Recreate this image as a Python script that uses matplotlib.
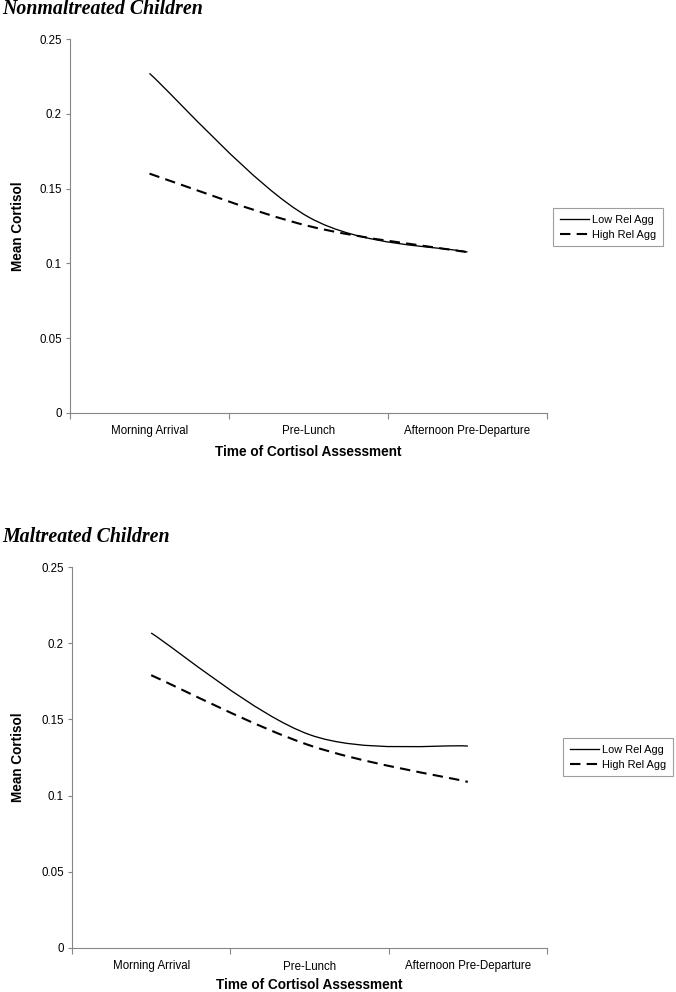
import numpy as np
import matplotlib
matplotlib.use("Agg")
import matplotlib.pyplot as plt
from matplotlib.path import Path
from matplotlib.patches import PathPatch
from matplotlib.lines import Line2D
from matplotlib.ticker import FuncFormatter


# ---------------------------------------------------------
# data
# ---------------------------------------------------------

times = ["Morning Arrival", "Pre-Lunch", "Afternoon Pre-Departure"]

nonmal_low = [0.227, 0.131, 0.1076]
nonmal_high = [0.160, 0.125, 0.1075]

mal_low = [0.2067, 0.140, 0.1325]
mal_high = [0.179, 0.133, 0.109]

series_names = ["Low Rel Agg", "High Rel Agg"]
y_ticks = [0, 0.05, 0.1, 0.15, 0.2, 0.25]


# ---------------------------------------------------------
# style
# ---------------------------------------------------------

plt.rcParams["font.family"] = ["Liberation Sans", "DejaVu Sans"]

AXIS_GRAY = "#868686"
SOLID_LW = 0.95
DASH_LW = 1.5
DASH = (0, (5, 3))

W, H = 676, 992


def smooth_path(xs, ys):
    """Excel風のスムージング（ベジェ曲線）のパスを作る"""
    pts = np.column_stack([xs, ys]).astype(float)
    ext = np.vstack([pts[0], pts, pts[-1]])
    verts = [pts[0]]
    codes = [Path.MOVETO]
    for i in range(len(pts) - 1):
        p0, p1, p2, p3 = ext[i], ext[i + 1], ext[i + 2], ext[i + 3]
        c1 = p1 + (p2 - p0) / 6
        c2 = p2 - (p3 - p1) / 6
        verts += [c1, c2, p2]
        codes += [Path.CURVE4] * 3
    return Path(verts, codes)


def draw_panel(box, title, title_y, low, high, legend_xy, ylabel_x, xlabel_y):
    left, top, right, bottom = box
    ax = fig.add_axes([left / W, 1 - bottom / H,
                       (right - left) / W, (bottom - top) / H])

    xs = np.arange(1, len(times) + 1)

    ax.add_patch(PathPatch(smooth_path(xs, low), fill=False,
                           edgecolor="black", linewidth=SOLID_LW,
                           capstyle="butt"))
    ax.add_patch(PathPatch(smooth_path(xs, high), fill=False,
                           edgecolor="black", linewidth=DASH_LW,
                           linestyle=DASH, capstyle="butt"))

    ax.set_xlim(0.5, len(times) + 0.5)
    ax.set_ylim(0, 0.25)

    for side in ["top", "right"]:
        ax.spines[side].set_visible(False)
    for side in ["left", "bottom"]:
        ax.spines[side].set_color(AXIS_GRAY)
        ax.spines[side].set_linewidth(0.8)

    ax.set_yticks(y_ticks)
    ax.yaxis.set_major_formatter(FuncFormatter(lambda v, p: f"{v:g}"))
    ax.tick_params(axis="y", length=3, width=0.8, color=AXIS_GRAY,
                   labelsize=8.3, pad=3)

    # カテゴリ境界に目盛り、ラベルは中央
    ax.set_xticks(xs)
    ax.set_xticklabels(times)
    ax.set_xticks(np.arange(0.5, len(times) + 1), minor=True)
    ax.tick_params(axis="x", which="major", length=0, labelsize=8.3, pad=9)
    ax.tick_params(axis="x", which="minor", length=4, width=0.8,
                   color=AXIS_GRAY)

    ax.set_ylabel("Mean Cortisol", fontsize=9.8, fontweight="bold")
    ax.yaxis.set_label_coords(ylabel_x, 0.5)
    ax.set_xlabel("Time of Cortisol Assessment", fontsize=9.8,
                  fontweight="bold")
    ax.xaxis.set_label_coords(0.5, xlabel_y)

    fig.text(2 / W, 1 - title_y / H, title, fontsize=14.3,
             family="Liberation Serif", fontweight="bold", style="italic",
             va="baseline", ha="left")

    handles = [
        Line2D([], [], color="black", linewidth=SOLID_LW),
        Line2D([], [], color="black", linewidth=DASH_LW, linestyle=DASH),
    ]
    leg = ax.legend(handles, series_names, loc="upper left",
                    bbox_to_anchor=(legend_xy[0] / W, 1 - legend_xy[1] / H),
                    bbox_transform=fig.transFigure, borderaxespad=0,
                    fontsize=7.9, frameon=True, fancybox=False,
                    handlelength=2.7, handletextpad=0.25,
                    labelspacing=0.45, borderpad=0.6)
    leg.get_frame().set_edgecolor(AXIS_GRAY)
    leg.get_frame().set_linewidth(0.8)
    return ax


fig = plt.figure(figsize=(W / 100, H / 100), dpi=100)

draw_panel((70, 39, 547, 413), "Nonmaltreated Children", 13.5,
           nonmal_low, nonmal_high, (553, 208), -0.094, -0.085)

draw_panel((72, 567, 547, 948), "Maltreated Children", 541.5,
           mal_low, mal_high, (563, 738), -0.099, -0.078)

fig.savefig("out.png", dpi=100)
